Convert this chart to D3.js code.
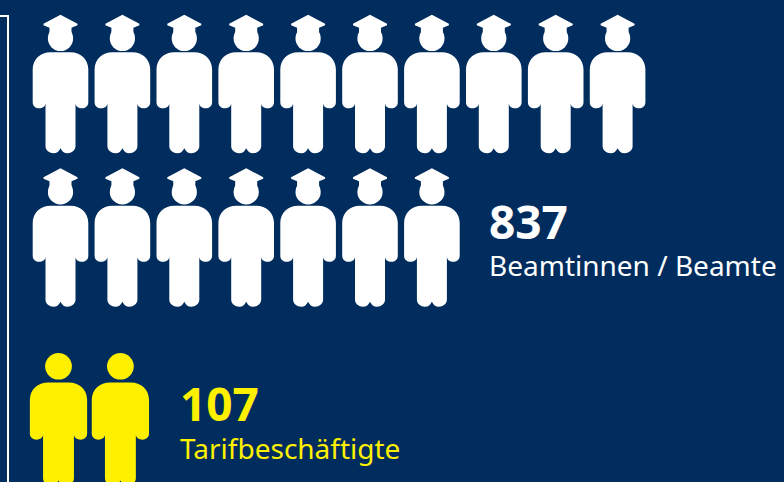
<!DOCTYPE html>
<html>
<head>
<meta charset="utf-8">
<script src="https://cdn.jsdelivr.net/npm/d3@7"></script>
<style>
  html, body { margin: 0; padding: 0; background: #002d5e; overflow: hidden; }
  text { font-family: "Noto Sans", sans-serif; }
</style>
</head>
<body>
<script>
// values
var groups = ["Beamtinnen / Beamte", "Tarifbeschäftigte"];
var totals = [837, 107];
var iconCounts = [17, 2];
var iconColors = ["#ffffff", "#fff000"];

var width = 784, height = 482;
var perRow = 10;

var svg = d3.select("body").append("svg")
    .attr("width", width)
    .attr("height", height)
    .style("display", "block");

svg.append("rect").attr("width", width).attr("height", height).attr("fill", "#002d5e");

// frame on the left
svg.append("path")
    .attr("d", "M0,16H8V482")
    .attr("fill", "none")
    .attr("stroke", "#ffffff")
    .attr("stroke-width", 2);

// icon column / row scales
var x = d3.scaleLinear().domain([0, 1]).range([0, 61.9]);
var y = d3.scaleLinear().domain([0, 1]).range([0, 153.4]);

// person body, origin = top centre of the body
var bodyPath = "M-10,0H10C20,0 27.8,7 27.8,17V50C27.8,54 24.5,56 21.5,56C18,56 15,54 15,51"
    + "V94C15,98 11,101 7,101C3.5,101 1.5,99 0,96C-1.5,99 -3.5,101 -7,101C-11,101 -15,98 -15,94V51"
    + "C-15,54 -18,56 -21.5,56C-24.5,56 -27.8,54 -27.8,50V17C-27.8,7 -20,0 -10,0Z";
var hatPath = "M0,-37.5L17,-28.5V-27L11,-24.5V-19H-11V-24.5L-17,-27V-28.5Z";

function person(sel, withHat, colour) {
    sel.append("path").attr("d", bodyPath).attr("fill", colour);
    sel.append("circle").attr("cx", 0).attr("cy", withHat ? -13.8 : -16).attr("r", withHat ? 12.6 : 13).attr("fill", colour);
    if (withHat) {
        sel.append("path").attr("d", hatPath).attr("fill", colour);
    }
}

// Beamte
var beamte = svg.append("g").attr("transform", "translate(60.5,52.3)");
beamte.selectAll("g")
    .data(d3.range(iconCounts[0]))
    .enter().append("g")
    .attr("transform", function(d) {
        return "translate(" + x(d % perRow) + "," + y(Math.floor(d / perRow)) + ")";
    })
    .each(function() { person(d3.select(this), true, iconColors[0]); });

// Tarif, drawn a little larger than the Beamte icons
var tarif = svg.append("g").attr("transform", "translate(58.5,382.6)");
tarif.selectAll("g")
    .data(d3.range(iconCounts[1]))
    .enter().append("g")
    .attr("transform", function(d) { return "translate(" + x(d) + ",0)scale(1.03,1.02)"; })
    .each(function() { person(d3.select(this), false, iconColors[1]); });

// labels
var labelPos = [[489, 239, 276], [180, 421, 459]];
groups.forEach(function(name, i) {
    svg.append("text")
        .attr("x", labelPos[i][0])
        .attr("y", labelPos[i][1])
        .attr("fill", iconColors[i])
        .attr("font-size", 46)
        .attr("font-weight", 700)
        .text(totals[i]);
    svg.append("text")
        .attr("x", labelPos[i][0])
        .attr("y", labelPos[i][2])
        .attr("fill", iconColors[i])
        .attr("font-size", 28)
        .text(name);
});
</script>
</body>
</html>
